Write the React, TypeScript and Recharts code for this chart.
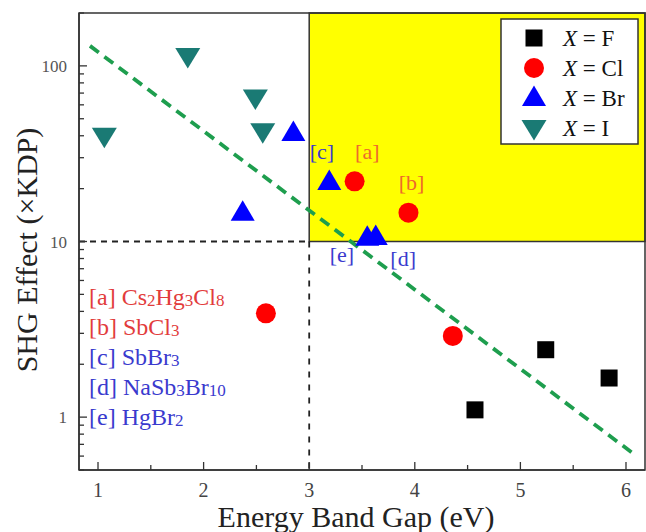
import React from 'react';
import {
  ComposedChart,
  Scatter,
  XAxis,
  YAxis,
  ReferenceArea,
  ReferenceLine,
  ReferenceDot,
} from 'recharts';

// ---- data ----
const fluorideData = [
  { x: 4.57, y: 1.1 },
  { x: 5.24, y: 2.42 },
  { x: 5.84, y: 1.67 },
];
const chlorideData = [
  { x: 2.59, y: 3.9 },
  { x: 3.43, y: 22 },
  { x: 3.94, y: 14.6 },
  { x: 4.36, y: 2.9 },
];
const bromideData = [
  { x: 2.37, y: 14.6 },
  { x: 2.85, y: 41.5 },
  { x: 3.19, y: 21.8 },
  { x: 3.55, y: 10.5 },
  { x: 3.63, y: 10.6 },
];
const iodideData = [
  { x: 1.06, y: 40 },
  { x: 1.85, y: 114 },
  { x: 2.49, y: 66 },
  { x: 2.56, y: 42.5 },
];
const trendLine = [
  { x: 0.924, y: 130 },
  { x: 6.054, y: 0.63 },
];
const yellowRegion = { x1: 3, x2: 6.18, y1: 10, y2: 200 };
const xDomain = [0.82, 6.18];
const yDomain = [0.5, 200];
const xTicks = [1, 1.5, 2, 2.5, 3, 3.5, 4, 4.5, 5, 5.5, 6];
const xTickLabels = [1, 2, 3, 4, 5, 6];
const yTicks = [
  0.5, 0.6, 0.7, 0.8, 0.9, 1, 2, 3, 4, 5, 6, 7, 8, 9, 10, 20, 30, 40, 50, 60,
  70, 80, 90, 100, 200,
];
const yTickLabels = [1, 10, 100];
const annotations = [
  { label: '[c]', x: 3.12, y: 32.8, kind: 'br' },
  { label: '[a]', x: 3.55, y: 32.8, kind: 'cl' },
  { label: '[b]', x: 3.97, y: 21.8, kind: 'cl' },
  { label: '[e]', x: 3.31, y: 8.5, kind: 'br' },
  { label: '[d]', x: 3.89, y: 8.07, kind: 'br' },
];
const compounds = [
  { tag: '[a]', parts: [['Cs', 0], ['2', 1], ['Hg', 0], ['3', 1], ['Cl', 0], ['8', 1]], kind: 'cl' },
  { tag: '[b]', parts: [['SbCl', 0], ['3', 1]], kind: 'cl' },
  { tag: '[c]', parts: [['SbBr', 0], ['3', 1]], kind: 'br' },
  { tag: '[d]', parts: [['NaSb', 0], ['3', 1], ['Br', 0], ['10', 1]], kind: 'br' },
  { tag: '[e]', parts: [['HgBr', 0], ['2', 1]], kind: 'br' },
];
const legendItems = [
  { name: 'F', marker: 'square' },
  { name: 'Cl', marker: 'circle' },
  { name: 'Br', marker: 'up' },
  { name: 'I', marker: 'down' },
];

// ---- styles ----
const FONT = '"Liberation Serif", "Times New Roman", serif';
const C_F = '#000000';
const C_CL = '#ff0000';
const C_BR = '#0000ff';
const C_I = '#1a7a74';
const C_TREND = '#1e9e4e';
const TXT_CL = '#e23c3c';
const TXT_CL_ANN = '#ee6a2c';
const TXT_BR = '#3a3ace';
const AXIS = '#333333';

const W = 646;
const H = 532;

function markerShape(kind: string, cx: number, cy: number, key?: any) {
  if (kind === 'square')
    return <rect key={key} x={cx - 8.5} y={cy - 8.5} width={17} height={17} fill={C_F} />;
  if (kind === 'circle')
    return <circle key={key} cx={cx} cy={cy} r={10} fill={C_CL} />;
  if (kind === 'up')
    return (
      <polygon
        key={key}
        points={`${cx},${cy - 12.5} ${cx - 12},${cy + 8} ${cx + 12},${cy + 8}`}
        fill={C_BR}
      />
    );
  return (
    <polygon
      key={key}
      points={`${cx - 12.5},${cy - 8} ${cx + 12.5},${cy - 8} ${cx},${cy + 12.5}`}
      fill={C_I}
    />
  );
}

const mk = (kind: string) => (props: any) => {
  const { cx, cy } = props;
  if (cx == null || cy == null) return <g />;
  return markerShape(kind, cx, cy);
};

const XTick = (props: any) => {
  const { x, y, payload } = props;
  const v = payload.value;
  const major = xTickLabels.includes(v);
  return (
    <g>
      <line x1={x} x2={x} y1={y} y2={y - (major ? 8 : 5)} stroke={AXIS} strokeWidth={1.3} />
      {major && (
        <text x={x} y={y + 27} textAnchor="middle" fontFamily={FONT} fontSize={20} fill="#444">
          {v}
        </text>
      )}
    </g>
  );
};

const YTick = (props: any) => {
  const { x, y, payload } = props;
  const v = payload.value;
  const major = yTickLabels.includes(v);
  return (
    <g>
      <line x1={x} x2={x + (major ? 8 : 5)} y1={y} y2={y} stroke={AXIS} strokeWidth={1.3} />
      {major && (
        <text x={x - 12} y={y + 6} textAnchor="end" fontFamily={FONT} fontSize={17} fill="#555">
          {v}
        </text>
      )}
    </g>
  );
};

const AnnLabel = (label: string, color: string) => (props: any) => {
  const { cx, cy } = props;
  return (
    <text x={cx} y={cy + 8} textAnchor="middle" fontFamily={FONT} fontSize={22} fill={color}>
      {label}
    </text>
  );
};

export default function App() {
  return (
    <div style={{ position: 'absolute', left: 0, top: 0, width: W, height: H, background: '#fff' }}>
      <ComposedChart
        width={W}
        height={H}
        margin={{ top: 13, right: 1, bottom: 0, left: 0 }}
      >
        <XAxis
          dataKey="x"
          type="number"
          domain={xDomain}
          allowDataOverflow
          ticks={xTicks}
          interval={0}
          tick={<XTick />}
          tickLine={false}
          tickSize={0}
          tickMargin={0}
          height={62}
          axisLine={{ stroke: AXIS, strokeWidth: 1.5 }}
        />
        <YAxis
          dataKey="y"
          type="number"
          scale="log"
          domain={yDomain}
          allowDataOverflow
          ticks={yTicks}
          interval={0}
          tick={<YTick />}
          tickLine={false}
          tickSize={0}
          tickMargin={0}
          width={79}
          axisLine={{ stroke: AXIS, strokeWidth: 1.5 }}
        />
        <ReferenceArea
          x1={yellowRegion.x1}
          x2={yellowRegion.x2}
          y1={yellowRegion.y1}
          y2={yellowRegion.y2}
          fill="#ffff00"
          fillOpacity={1}
          stroke={AXIS}
          strokeWidth={1.5}
        />
        <ReferenceArea
          x1={xDomain[0]}
          x2={xDomain[1]}
          y1={yDomain[0]}
          y2={yDomain[1]}
          fill="none"
          fillOpacity={0}
          stroke={AXIS}
          strokeWidth={1.5}
        />
        <ReferenceLine
          segment={[
            { x: xDomain[0], y: yellowRegion.y1 },
            { x: yellowRegion.x1, y: yellowRegion.y1 },
          ]}
          stroke="#222"
          strokeWidth={1.8}
          strokeDasharray="6 5"
        />
        <ReferenceLine
          segment={[
            { x: yellowRegion.x1, y: yellowRegion.y1 },
            { x: yellowRegion.x1, y: yDomain[0] },
          ]}
          stroke="#222"
          strokeWidth={1.8}
          strokeDasharray="6 7"
        />
        <ReferenceLine
          segment={trendLine}
          stroke={C_TREND}
          strokeWidth={3.8}
          strokeDasharray="11 7"
        />
        <Scatter data={iodideData} dataKey="y" shape={mk('down')} isAnimationActive={false} />
        <Scatter data={bromideData} dataKey="y" shape={mk('up')} isAnimationActive={false} />
        <Scatter data={chlorideData} dataKey="y" shape={mk('circle')} isAnimationActive={false} />
        <Scatter data={fluorideData} dataKey="y" shape={mk('square')} isAnimationActive={false} />
        {annotations.map((a) => (
          <ReferenceDot
            key={a.label}
            x={a.x}
            y={a.y}
            r={0}
            shape={AnnLabel(a.label, a.kind === 'cl' ? TXT_CL_ANN : TXT_BR)}
          />
        ))}
      </ComposedChart>
      <svg
        width={W}
        height={H}
        style={{ position: 'absolute', left: 0, top: 0, pointerEvents: 'none' }}
      >
        {/* symbol legend */}
        <rect x={501} y={19} width={137} height={125} fill="#fff" stroke={AXIS} strokeWidth={1.5} />
        {legendItems.map((it, i) => {
          const cy = 38 + i * 30;
          return (
            <g key={it.name}>
              {markerShape(it.marker, 534, cy)}
              <text x={563} y={cy + 8} fontFamily={FONT} fontSize={23} fill="#111">
                <tspan fontStyle="italic">X</tspan>
                <tspan> = {it.name}</tspan>
              </text>
            </g>
          );
        })}
        {/* compound list */}
        {compounds.map((c, i) => (
          <text
            key={c.tag}
            x={89}
            y={305 + i * 30}
            fontFamily={FONT}
            fontSize={24}
            fill={c.kind === 'cl' ? TXT_CL : TXT_BR}
          >
            <tspan>{c.tag} </tspan>
            {c.parts.map((p, j) =>
              p[1] ? (
                <tspan key={j} fontSize={17} dy={1}>
                  {p[0] as string}
                </tspan>
              ) : (
                <tspan key={j} dy={j > 0 ? -1 : 0}>
                  {p[0] as string}
                </tspan>
              )
            )}
          </text>
        ))}
        {/* axis titles */}
        <text x={356} y={527} textAnchor="middle" fontFamily={FONT} fontSize={30} fill="#222">
          Energy Band Gap (eV)
        </text>
        <text
          x={0}
          y={0}
          transform="translate(37,250) rotate(-90)"
          textAnchor="middle"
          fontFamily={FONT}
          fontSize={30}
          fill="#222"
        >
          SHG Effect (×KDP)
        </text>
      </svg>
    </div>
  );
}
